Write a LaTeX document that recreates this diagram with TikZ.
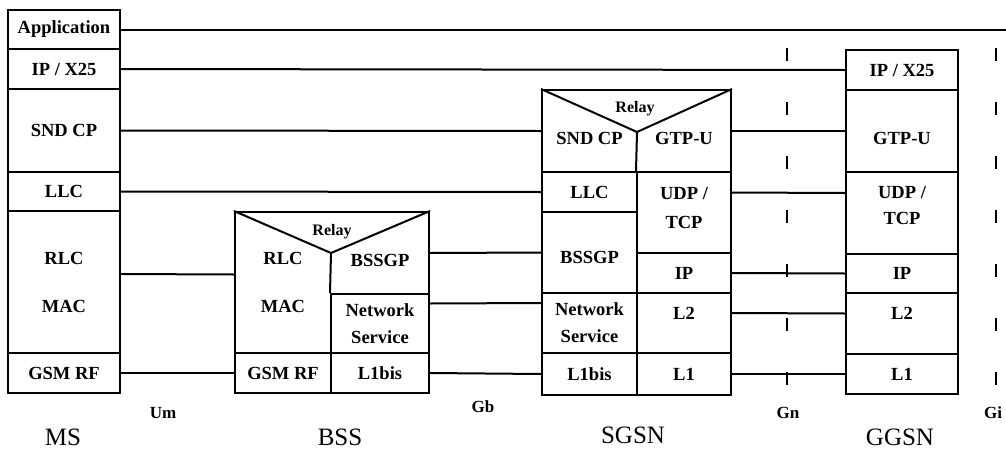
\documentclass[tikz,border=0pt]{standalone}
\usepackage{fontspec}
\setmainfont{Liberation Serif}
\usetikzlibrary{positioning}

\newcommand{\cellfont}{\fontsize{18.5}{27}\selectfont\bfseries}

\begin{document}
\begin{tikzpicture}[
    x=1pt, y=-1pt,
    cell/.style={draw, line width=2pt, inner sep=0pt, align=center, font=\cellfont},
    hidden/.style={cell, draw=none},
    link/.style={line width=2pt},
    iface/.style={line width=2pt, dash pattern=on 13pt off 41pt},
    ifname/.style={font=\fontsize{17}{20}\selectfont\bfseries},
    relay/.style={font=\fontsize{16}{18}\selectfont\bfseries, inner sep=0pt},
    stackname/.style={font=\fontsize{25}{28}\selectfont},
    every label/.style={font=\cellfont, align=center, inner sep=0pt}
  ]
  \useasboundingbox (0,0) rectangle (1006,450);

  % MS stack
  \node[cell, minimum width=112, minimum height=39] (msapp) at (64,29.5) {Application};
  \node[cell, minimum width=112, minimum height=40] (msip) at (64,69) {IP / X25};
  \node[cell, minimum width=112, minimum height=83] (mssnd) at (64,130.5) {SND CP};
  \node[cell, minimum width=112, minimum height=39] (msllc) at (64,191.5) {LLC};
  \node[cell, minimum width=112, minimum height=142] (msrlc) at (64,282) {RLC\\[21pt]MAC};
  \node[cell, minimum width=112, minimum height=40] (msrf) at (64,373) {GSM RF};

  % BSS stack
  \node[cell, minimum width=194, minimum height=181] (bss) at (332,302.5) {};
  \node[hidden, minimum width=96, minimum height=141] (bssrlc) at (283,282.5) {RLC\\[21pt]MAC};
  \node[hidden, minimum width=98, minimum height=82, label={[yshift=-7pt]center:BSSGP}] (bssgp) at (380,253) {};
  \node[cell, minimum width=98, minimum height=59] (bssns) at (380,323.5) {Network\\Service};
  \node[cell, minimum width=96, minimum height=40] (bssrf) at (283,373) {GSM RF};
  \node[cell, minimum width=98, minimum height=40] (bssl1) at (380,373) {L1bis};
  \coordinate (bssapex) at (331,253);
  \draw[link] (bss.north west) -- (bssapex) -- (bss.north east);
  \draw[link] (bssapex) -- (bssns.north west);
  \node[relay] (bssrelay) at (332,232) {Relay};

  % SGSN stack
  \node[cell, minimum width=189, minimum height=305] (sgsn) at (636.5,242.5) {};
  \node[hidden, minimum width=95, minimum height=82, label={[yshift=-7pt]center:SND CP}] (sgsnd) at (589.5,131) {};
  \node[hidden, minimum width=94, minimum height=82, label={[yshift=-7pt]center:GTP-U}] (sggtp) at (684,131) {};
  \node[cell, minimum width=95, minimum height=40] (sgllc) at (589.5,192) {LLC};
  \node[cell, minimum width=95, minimum height=81, label={[yshift=-5pt]center:BSSGP}] (sgbssgp) at (589.5,252.5) {};
  \node[cell, minimum width=95, minimum height=60] (sgns) at (589.5,323) {Network\\Service};
  \node[cell, minimum width=95, minimum height=42] (sgl1bis) at (589.5,374) {L1bis};
  \node[cell, minimum width=94, minimum height=81, label={[yshift=5pt]center:UDP /\\[2pt]TCP}] (sgudp) at (684,212.5) {};
  \node[cell, minimum width=94, minimum height=40] (sgip) at (684,273) {IP};
  \node[cell, minimum width=94, minimum height=60, label={[yshift=10pt]center:L2}] (sgl2) at (684,323) {};
  \node[cell, minimum width=94, minimum height=42] (sgl1) at (684,374) {L1};
  \coordinate (sgapex) at (637,132);
  \draw[link] (sgsn.north west) -- (sgapex) -- (sgsn.north east);
  \draw[link] (sgapex) -- (sgudp.north west);
  \node[relay] (sgrelay) at (635,109) {Relay};

  % GGSN stack
  \node[cell, minimum width=112, minimum height=40] (ggip) at (902,70) {IP / X25};
  \node[cell, minimum width=112, minimum height=82, label={[yshift=-7pt]center:GTP-U}] (gggtp) at (902,131) {};
  \node[cell, minimum width=112, minimum height=82, label={[yshift=8pt]center:UDP /\\[-1pt]TCP}] (ggudp) at (902,213) {};
  \node[cell, minimum width=112, minimum height=39] (ggipl) at (902,273.5) {IP};
  \node[cell, minimum width=112, minimum height=61, label={[yshift=10pt]center:L2}] (ggl2) at (902,323.5) {};
  \node[cell, minimum width=112, minimum height=40] (ggl1) at (902,374) {L1};

  % Peer links
  \coordinate (append) at (1010,29.5);
  \draw[link] (msapp.east) -- (append);
  \draw[link] (msip.east) -- (ggip.west);
  \draw[link] (mssnd.east) -- (sgsnd.west);
  \draw[link] (msllc.east) -- (sgllc.west);
  \draw[link] ([yshift=8pt]msrlc.east) -- ([yshift=8pt]bssrlc.west);
  \draw[link] (msrf.east) -- (bssrf.west);
  \draw[link] (bssgp.east) -- (sgbssgp.west);
  \draw[link] ([yshift=20pt]bssns.east) -- ([yshift=20pt]sgns.west);
  \draw[link] (bssl1.east) -- (sgl1bis.west);
  \draw[link] (sggtp.east) -- (gggtp.west);
  \draw[link] ([yshift=20pt]sgudp.east) -- ([yshift=20pt]ggudp.west);
  \draw[link] (sgip.east) -- (ggipl.west);
  \draw[link] ([yshift=10pt]sgl2.east) -- ([yshift=10pt]ggl2.west);
  \draw[link] (sgl1.east) -- (ggl1.west);

  % Interfaces
  \coordinate (gntop) at (787,48);
  \coordinate (gnbot) at (787,392);
  \coordinate (gitop) at (996,48);
  \coordinate (gibot) at (996,392);
  \draw[iface] (gntop) -- (gnbot);
  \draw[iface] (gitop) -- (gibot);
  \node[ifname] (um) at (163,413) {Um};
  \node[ifname] (gb) at (483,407) {Gb};
  \node[ifname] (gn) at (788,413) {Gn};
  \node[ifname] (gi) at (993,413) {Gi};

  % Node names
  \node[stackname] (ms) at (63,437) {MS};
  \node[stackname] (bssname) at (340,437) {BSS};
  \node[stackname] (sgsnname) at (633,435) {SGSN};
  \node[stackname] (ggsnname) at (900,437) {GGSN};
\end{tikzpicture}
\end{document}
